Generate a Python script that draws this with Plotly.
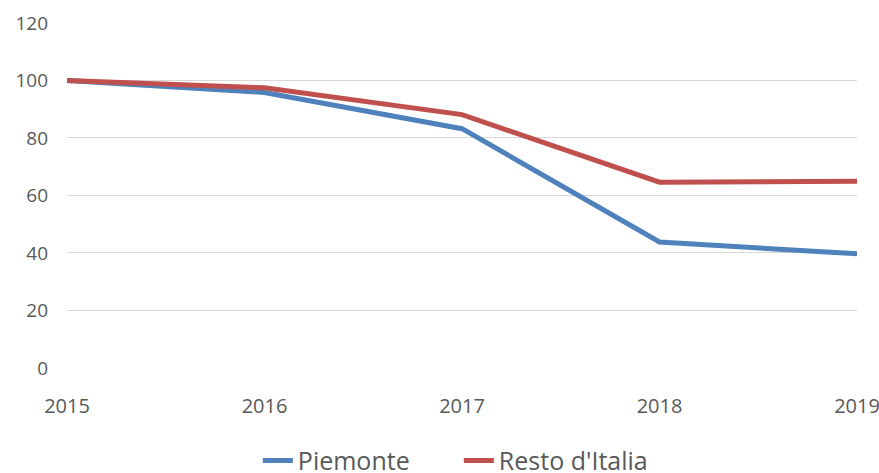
import plotly.graph_objects as go

years = [2015, 2016, 2017, 2018, 2019]
piemonte = [100, 95.8, 83.2, 43.8, 39.7]
resto_italia = [100, 97.4, 88.1, 64.6, 64.9]
y_ticks = [0, 20, 40, 60, 80, 100, 120]

fig = go.Figure()
fig.add_trace(go.Scatter(x=years, y=piemonte, mode="lines", name="Piemonte",
                         line=dict(color="#4F81BD", width=5)))
fig.add_trace(go.Scatter(x=years, y=resto_italia, mode="lines", name="Resto d'Italia",
                         line=dict(color="#C0504D", width=5)))

fig.update_layout(
    width=879, height=473,
    margin=dict(l=67, r=22, t=22, b=105, autoexpand=False),
    plot_bgcolor="white", paper_bgcolor="white",
    font=dict(family="Open Sans", color="#595959", size=19),
    showlegend=True,
    legend=dict(orientation="h", x=0.496, xanchor="center", yref="container",
                y=0.026, yanchor="middle", font=dict(size=25, color="#595959"),
                itemwidth=30, entrywidth=156),
    xaxis=dict(range=[2015, 2019], tickvals=years, ticktext=[str(y) for y in years],
               showgrid=False, zeroline=False, showline=False, ticks="",
               ticklabelstandoff=24, tickfont=dict(size=20),
               ticklabeloverflow="allow"),
    yaxis=dict(range=[0, 120.3], tickvals=y_ticks, showgrid=True, gridcolor="#D9D9D9",
               gridwidth=1, zeroline=False, showline=False, ticks="",
               ticklabelstandoff=18, tickfont=dict(size=19)),
)

fig.write_html("out.html", config={"displayModeBar": False},
               post_script="document.body.style.margin='0';document.body.style.overflow='hidden';")
